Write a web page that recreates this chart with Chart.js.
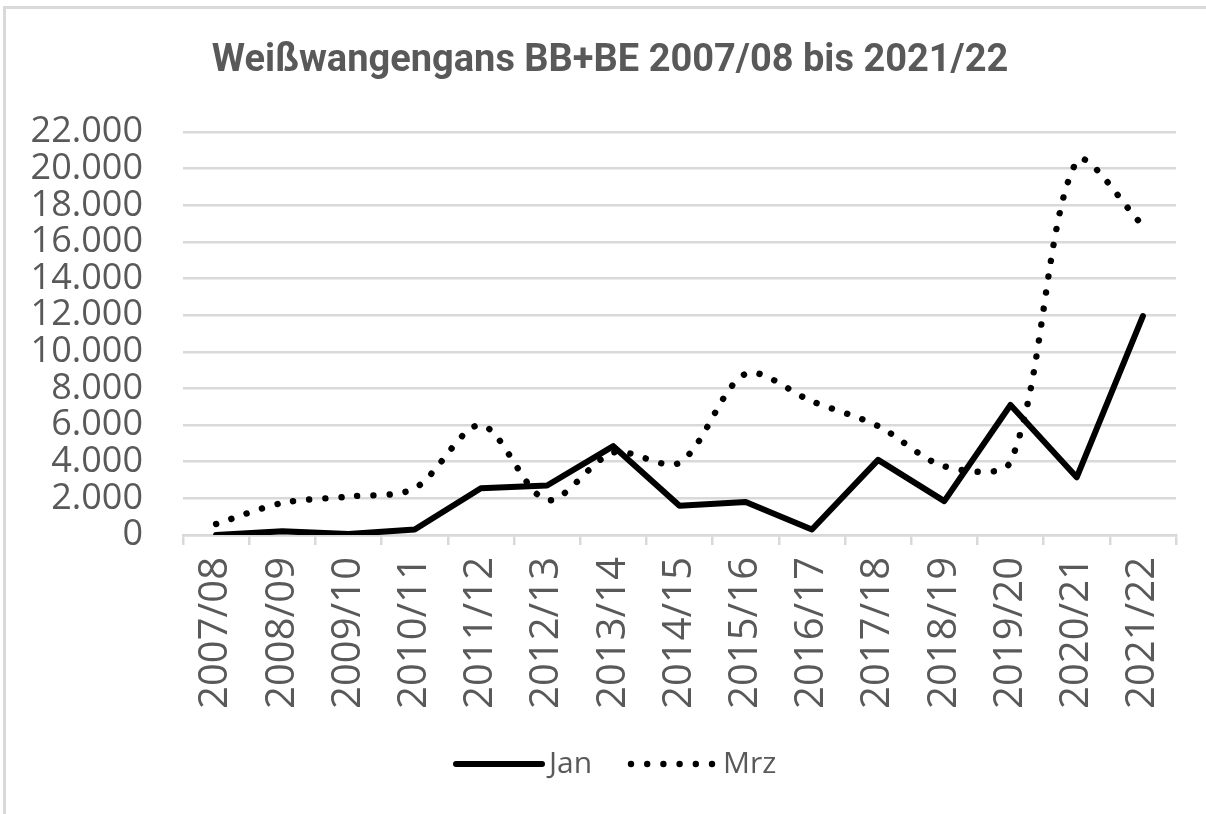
<!DOCTYPE html>
<html lang="de">
<head>
<meta charset="utf-8">
<title>Weißwangengans BB+BE</title>
<script src="https://cdn.jsdelivr.net/npm/chart.js@4/dist/chart.umd.min.js"></script>
<style>
  html, body { margin: 0; padding: 0; background: #fff; }
  #wrap { position: relative; width: 1206px; height: 814px; overflow: hidden; }
  #frame {
    position: absolute; left: 3px; top: 6px; width: 1400px; height: 1000px;
    border-top: 3px solid #d9d9d9; border-left: 3px solid #d9d9d9;
    pointer-events: none;
  }
  canvas { position: absolute; left: 0; top: 0; }
</style>
</head>
<body>
<div id="wrap">
  <canvas id="gansChart" width="1206" height="814"></canvas>
  <div id="frame"></div>
</div>
<script>
const chartTitle = 'Weißwangengans BB+BE 2007/08 bis 2021/22';

const seasons = [
    '2007/08', '2008/09', '2009/10', '2010/11', '2011/12',
    '2012/13', '2013/14', '2014/15', '2015/16', '2016/17',
    '2017/18', '2018/19', '2019/20', '2020/21', '2021/22'
];

// Zählungen im Januar
const janCounts = [0, 200, 50, 300, 2550, 2700, 4850, 1600, 1800, 300, 4100, 1850, 7100, 3150, 11950];

// Zählungen im März
const mrzCounts = [600, 1750, 2100, 2550, 6000, 1900, 4500, 3950, 8800, 7300, 5950, 3750, 4000, 20400, 16900];

const yTicks = [0, 2000, 4000, 6000, 8000, 10000, 12000, 14000, 16000, 18000, 20000, 22000];

const textGray = '#595959';
const gridGray = '#d9d9d9';

function formatDe(v) {
    return String(v).replace(/\B(?=(\d{3})+(?!\d))/g, '.');
}

// Titel und Legende werden direkt auf die Leinwand gezeichnet
const titleAndLegend = {
    id: 'titleAndLegend',
    afterDraw(chart) {
        const ctx = chart.ctx;
        ctx.save();
        ctx.fillStyle = textGray;
        ctx.font = 'bold 38px Roboto';
        ctx.textAlign = 'center';
        ctx.textBaseline = 'middle';
        ctx.fillText(chartTitle, 610, 61);

        const ly = 764;
        const ds = chart.data.datasets;
        ctx.font = '30px "Open Sans"';
        ctx.textAlign = 'left';

        // Jan: durchgezogene Linie
        ctx.strokeStyle = '#000';
        ctx.lineWidth = 6;
        ctx.lineCap = 'round';
        ctx.beginPath();
        ctx.moveTo(456, ly);
        ctx.lineTo(542, ly);
        ctx.stroke();
        ctx.fillText(ds[0].label, 549, ly);

        // Mrz: gepunktete Linie
        ctx.fillStyle = '#000';
        for (let i = 0; i < 6; i++) {
            ctx.beginPath();
            ctx.arc(631 + i * 16.2, ly, 3.2, 0, Math.PI * 2);
            ctx.fill();
        }
        ctx.fillStyle = textGray;
        ctx.fillText(ds[1].label, 723, ly);
        ctx.restore();
    }
};

const ctx = document.getElementById('gansChart').getContext('2d');
new Chart(ctx, {
    type: 'line',
    data: {
        labels: seasons,
        datasets: [
            {
                label: 'Jan',
                data: janCounts,
                borderColor: '#000',
                borderWidth: 6,
                borderJoinStyle: 'round',
                borderCapStyle: 'round',
                pointRadius: 0,
                tension: 0,
                fill: false
            },
            {
                label: 'Mrz',
                data: mrzCounts,
                borderColor: '#000',
                borderWidth: 6.4,
                borderDash: [0.1, 16],
                borderCapStyle: 'round',
                pointRadius: 0,
                tension: 0.3,
                fill: false
            }
        ]
    },
    options: {
        responsive: false,
        animation: false,
        devicePixelRatio: 1,
        layout: { padding: { top: 132, right: 30, bottom: 0, left: 0 } },
        plugins: {
            legend: { display: false },
            title: { display: false },
            tooltip: { enabled: false }
        },
        scales: {
            x: {
                offset: true,
                grid: {
                    offset: true,
                    drawOnChartArea: false,
                    drawTicks: true,
                    tickLength: 10,
                    color: gridGray,
                    lineWidth: 2.5
                },
                border: { color: gridGray, width: 2.5 },
                ticks: {
                    color: textGray,
                    font: { family: 'Open Sans', size: 40 },
                    minRotation: 90,
                    maxRotation: 90,
                    autoSkip: false,
                    padding: 12
                },
                afterFit(scale) { scale.height = 279; }
            },
            y: {
                min: 0,
                max: 22000,
                afterBuildTicks(scale) {
                    scale.ticks = yTicks.map(v => ({ value: v }));
                },
                grid: {
                    color: gridGray,
                    lineWidth: 2.5,
                    drawTicks: false
                },
                border: { display: false },
                ticks: {
                    color: textGray,
                    font: { family: 'Open Sans', size: 36 },
                    padding: 40,
                    autoSkip: false,
                    callback: v => formatDe(v)
                },
                afterFit(scale) { scale.width = 183; }
            }
        }
    },
    plugins: [titleAndLegend]
});
</script>
</body>
</html>
